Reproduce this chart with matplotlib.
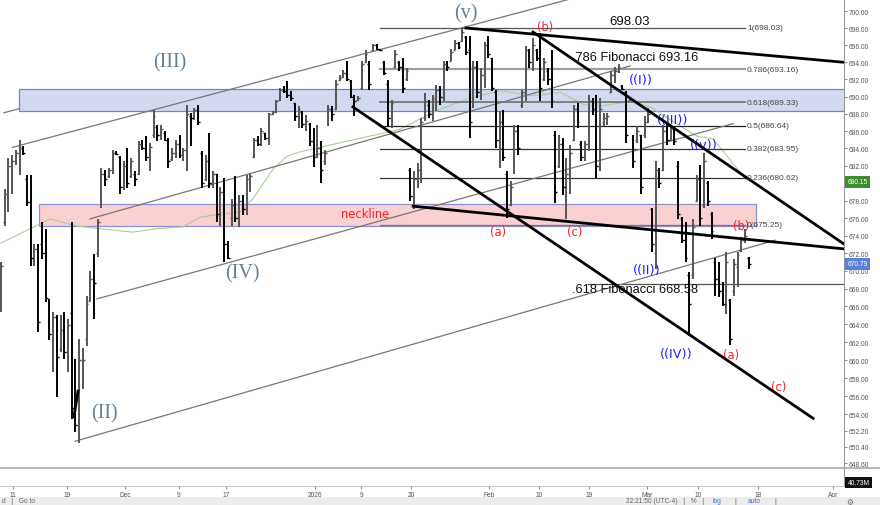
import numpy as np
import matplotlib.pyplot as plt
from matplotlib.patches import Rectangle
from matplotlib.lines import Line2D
from matplotlib.ticker import FixedLocator, NullLocator, FuncFormatter

plt.rcParams['font.family'] = ['Liberation Sans', 'DejaVu Sans']

# 4h bars, Nov 10 2025 -> Mar 17 2026
highs = [671.0, 679.3, 682.9, 683.2, 683.8, 685.0, 684.3, 680.9, 680.9, 673.0,
         673.0, 675.6, 674.8, 666.8, 665.4, 665.0, 665.0, 665.4, 664.6, 675.6,
         660.1, 662.4, 661.3, 667.2, 670.0, 671.9, 675.9, 681.7, 681.5, 681.7,
         683.8, 683.7, 683.1, 682.5, 684.0, 682.9, 681.4, 684.8, 685.0, 685.4,
         684.6, 688.4, 686.7, 686.7, 686.0, 685.2, 684.0, 685.0, 685.5, 684.0,
         689.0, 688.1, 688.7, 689.0, 683.7, 683.2, 685.8, 681.4, 681.1, 679.6,
         680.6, 673.4, 678.2, 680.8, 678.6, 678.6, 680.9, 681.1, 685.2, 685.4,
         686.4, 685.8, 688.1, 688.3, 689.6, 691.0, 691.2, 691.8, 690.6, 689.3,
         688.9, 688.3, 687.9, 686.9, 686.4, 686.7, 684.8, 683.8, 689.0, 688.9,
         691.9, 692.5, 693.1, 694.1, 691.9, 690.2, 690.1, 694.1, 695.4, 694.1,
         696.2, 696.2, 695.6, 694.1, 691.9, 689.6, 695.4, 694.2, 694.5, 693.3,
         681.7, 681.4, 682.3, 687.5, 690.4, 689.6, 690.2, 691.3, 691.2, 694.2,
         694.1, 695.6, 696.6, 696.4, 698.03, 697.1, 697.1, 694.1, 694.2, 693.3,
         696.4, 697.1, 694.5, 690.8, 688.3, 688.4, 681.4, 680.2, 686.7, 686.7,
         690.8, 695.9, 695.6, 696.8, 695.6, 697.4, 694.5, 693.3, 695.4, 686.0,
         685.5, 685.2, 682.9, 684.4, 689.0, 689.3, 684.8, 684.8, 690.2, 689.8,
         690.2, 689.8, 688.1, 688.1, 693.0, 693.5, 693.8, 691.3, 690.6, 689.8,
         685.5, 686.6, 685.5, 687.7, 688.7, 677.1, 682.6, 681.7, 686.7, 686.9,
         686.7, 686.4, 682.5, 676.1, 675.6, 669.9, 675.9, 680.9, 682.1, 683.5,
         680.2, 676.7, 671.5, 671.0, 668.7, 672.2, 666.8, 671.3, 672.1, 673.8,
         674.8, 671.6]
lows = [665.4, 675.1, 676.7, 678.8, 682.1, 680.9, 683.2, 677.4, 670.6, 670.6,
        663.1, 671.4, 666.5, 662.2, 658.7, 655.9, 660.9, 660.1, 658.7, 653.5,
        652.1, 650.8, 656.8, 661.6, 666.6, 664.6, 671.6, 677.1, 679.7, 680.6,
        681.1, 683.2, 678.8, 679.2, 679.4, 680.6, 679.7, 680.9, 683.8, 682.5,
        681.4, 685.2, 684.8, 685.0, 684.8, 681.7, 682.5, 682.9, 682.9, 682.5,
        681.4, 684.3, 687.3, 686.7, 679.4, 680.2, 679.4, 679.4, 675.6, 675.1,
        671.0, 671.3, 675.1, 675.6, 675.0, 676.3, 676.3, 679.0, 682.9, 684.3,
        684.3, 685.0, 684.4, 687.9, 688.1, 689.5, 690.4, 689.8, 689.5, 687.2,
        686.4, 686.4, 686.0, 684.3, 681.9, 682.9, 680.0, 682.1, 686.6, 687.2,
        688.4, 691.8, 692.2, 691.8, 689.8, 687.7, 689.5, 690.8, 693.9, 690.8,
        695.3, 695.4, 695.3, 692.5, 686.6, 686.4, 693.3, 693.0, 690.4, 691.8,
        677.9, 677.0, 679.4, 680.0, 687.2, 687.5, 687.2, 688.3, 689.0, 689.5,
        693.0, 694.1, 695.4, 695.6, 696.4, 694.8, 685.2, 688.7, 689.8, 689.6,
        691.0, 694.5, 690.6, 684.0, 681.7, 682.5, 676.0, 677.4, 681.1, 683.2,
        688.7, 689.5, 693.3, 693.0, 694.1, 689.5, 691.8, 691.3, 688.7, 677.7,
        681.7, 678.6, 675.9, 678.8, 684.8, 686.4, 682.5, 682.5, 683.7, 687.9,
        680.6, 681.4, 686.6, 686.7, 690.4, 691.6, 692.7, 690.8, 684.6, 689.5,
        681.7, 684.6, 678.8, 685.2, 686.9, 672.1, 670.2, 679.4, 681.4, 684.4,
        684.8, 684.4, 675.9, 673.2, 671.0, 662.7, 669.1, 677.9, 675.1, 677.1,
        677.4, 673.6, 667.2, 667.1, 666.0, 665.2, 661.7, 667.2, 668.2, 672.1,
        673.2, 670.2]
opens = [666.3, 675.5, 678.8, 682.0, 682.5, 683.5, 684.0, 680.5, 677.8, 671.5,
         672.5, 673.0, 672.0, 666.7, 662.9, 664.8, 661.2, 663.4, 660.9, 665.3,
         654.7, 652.8, 660.0, 662.4, 666.6, 669.1, 672.0, 677.5, 681.0, 680.8,
         681.5, 683.5, 683.0, 679.5, 682.0, 680.8, 681.0, 681.0, 684.5, 684.0,
         683.0, 685.5, 686.5, 685.5, 685.8, 685.0, 682.8, 683.5, 684.5, 683.2,
         683.8, 687.8, 687.5, 688.4, 683.5, 680.5, 682.5, 680.0, 681.0, 676.5,
         679.0, 673.0, 676.0, 677.5, 676.0, 678.0, 677.0, 680.5, 683.0, 685.0,
         684.5, 685.8, 685.2, 688.0, 688.2, 689.6, 690.8, 690.6, 690.2, 689.2,
         687.8, 688.2, 686.8, 686.8, 684.8, 683.0, 684.0, 682.5, 686.8, 688.5,
         688.5, 691.9, 692.3, 692.8, 691.8, 690.0, 689.6, 691.0, 694.0, 693.8,
         695.4, 696.0, 695.5, 694.0, 691.5, 687.5, 693.5, 694.0, 693.5, 692.0,
         681.5, 678.5, 680.5, 681.0, 687.5, 689.0, 688.0, 689.5, 690.8, 690.0,
         693.8, 694.2, 695.5, 696.3, 696.5, 697.0, 695.5, 689.0, 693.5, 690.5,
         692.5, 696.0, 694.5, 690.5, 685.0, 687.0, 681.0, 677.5, 681.5, 686.0,
         689.0, 690.5, 695.5, 694.0, 695.5, 694.5, 692.0, 693.0, 692.0, 685.5,
         682.0, 684.5, 679.5, 681.0, 685.0, 688.5, 684.5, 683.0, 684.5, 689.5,
         688.5, 682.0, 687.0, 687.5, 690.5, 692.5, 693.0, 691.2, 690.5, 689.6,
         685.0, 685.0, 685.5, 685.5, 687.0, 677.0, 672.0, 681.0, 681.5, 686.0,
         685.0, 686.2, 682.0, 676.0, 673.5, 669.6, 669.6, 678.0, 680.5, 677.5,
         680.0, 676.5, 671.0, 669.1, 667.7, 666.3, 666.7, 667.7, 670.5, 672.3,
         673.5, 671.5]
closes = [670.6, 678.8, 682.0, 682.5, 683.5, 684.0, 683.5, 677.8, 671.5, 672.5,
          664.3, 672.0, 667.0, 662.9, 664.8, 660.4, 663.4, 660.9, 663.9, 654.7,
          652.8, 660.0, 660.0, 666.3, 669.1, 668.6, 675.5, 681.0, 680.5, 681.5,
          683.5, 683.4, 679.5, 682.0, 680.0, 682.5, 680.5, 684.5, 684.0, 683.0,
          684.2, 687.8, 685.5, 686.2, 685.0, 682.5, 683.5, 684.5, 683.2, 683.8,
          688.0, 687.5, 688.4, 687.0, 680.0, 682.5, 680.0, 681.0, 676.5, 679.0,
          673.0, 671.5, 677.5, 676.0, 678.0, 677.0, 680.5, 680.8, 685.0, 684.5,
          686.0, 685.2, 688.0, 688.2, 689.5, 690.8, 690.6, 690.2, 689.8, 687.8,
          688.5, 686.8, 687.2, 684.8, 683.0, 684.0, 681.5, 683.5, 688.5, 688.0,
          691.5, 692.2, 692.8, 692.0, 690.0, 689.5, 689.8, 693.8, 695.0, 691.5,
          696.0, 695.6, 695.4, 692.8, 687.5, 689.2, 695.0, 693.5, 691.0, 693.0,
          678.5, 680.5, 681.5, 687.0, 689.5, 688.0, 689.8, 690.8, 690.0, 693.8,
          693.5, 695.2, 696.3, 695.8, 697.5, 695.2, 687.0, 693.5, 690.5, 692.5,
          696.0, 695.0, 691.0, 685.0, 687.0, 683.0, 677.0, 679.5, 686.0, 684.0,
          690.5, 695.5, 694.0, 696.0, 694.5, 691.0, 694.0, 692.0, 689.5, 679.0,
          684.5, 679.5, 681.0, 683.5, 688.5, 687.0, 683.0, 684.5, 689.5, 688.5,
          682.0, 688.5, 687.5, 687.8, 692.5, 693.0, 693.5, 690.9, 685.5, 689.7,
          682.5, 686.0, 679.5, 687.0, 688.0, 673.0, 681.5, 680.0, 686.0, 685.0,
          686.5, 684.8, 676.5, 673.5, 671.5, 666.3, 675.0, 680.5, 676.0, 682.5,
          678.0, 674.5, 669.1, 667.7, 666.3, 671.0, 662.4, 670.8, 671.8, 673.5,
          674.0, 670.79]

# moving average (thin green), traced
ma_x = [-0.3, 13.2, 20.4, 26.6, 35.5, 41.9, 48.9, 53.5, 58.1, 64.2, 67.7, 73.1, 76.9,
        80.4, 93.8, 107.3, 116.1, 125.3, 134.1, 143.0, 150.3, 156.5, 161.0, 169.1,
        174.5, 182.5, 187.1, 191.4, 195.2, 200.0]
ma_y = [673.1, 675.9, 675.1, 674.8, 674.4, 674.8, 675.0, 676.1, 676.4, 676.7, 678.2,
        681.6, 683.1, 683.6, 684.9, 686.2, 688.2, 689.7, 690.7, 690.1, 690.5, 689.1,
        688.9, 689.4, 688.8, 686.6, 685.4, 685.1, 683.1, 680.5]

fib_ratio = ['1', '0.786', '0.618', '0.5', '0.382', '0.236', '0']
fib_level = [698.03, 693.16, 689.33, 686.64, 683.95, 680.62, 675.25]

date_pos = [3.1, 17.7, 33.3, 47.8, 60.4, 84.4, 96.8, 110.2, 131.2, 144.6, 158.1,
            173.6, 187.4, 203.4, 223.7]
date_lbl = ['11', '19', 'Dec', '9', '17', '2026', '9', '20', 'Feb', '10', '19',
            'Mar', '10', '18', 'Apr']
# 680.00 sits under the last-price tag, so it is left out
price_ticks = [648.6, 650.4, 652.2] + [v for v in range(654, 701, 2) if v != 680]

fig = plt.figure(figsize=(8.8, 5.06), dpi=100)
ax = fig.add_axes([0, 37 / 506, 844 / 880, 469 / 506])
vax = fig.add_axes([0, 19 / 506, 844 / 880, 18 / 506], sharex=ax)

n = len(highs)
x = np.arange(n)
o = np.array(opens)
c = np.array(closes)
col = np.where(c >= o, '#555555', '#000000')
ax.vlines(x, lows, highs, colors=col, lw=1.4, zorder=3)
ax.hlines(o, x - 0.5, x, colors=col, lw=1.0, zorder=3)
ax.hlines(c, x, x + 0.5, colors=col, lw=1.0, zorder=3)

ax.plot(ma_x, ma_y, color='#a9cf98', lw=0.8, zorder=2)

# zones
ax.add_patch(Rectangle((4.8, 688.29), 230, 2.6, fc='#d3d9ee', ec='#6f88c8', lw=0.9, zorder=1))
ax.add_patch(Rectangle((10.2, 675.05), 192.8, 2.53, fc='#fbd0d0', ec='#8a90d0', lw=0.9, zorder=1))

# fibonacci retracement
fib_col = ['#555555', '#a0a0a0', '#777777', '#222222', '#333333', '#333333', '#777777']
fib_lw = [0.9, 1.6, 1.3, 0.9, 0.9, 0.9, 0.9]
for r, lv, fc, lw in zip(fib_ratio, fib_level, fib_col, fib_lw):
    ax.plot([101.9, 200.0], [lv, lv], color=fc, lw=lw, zorder=2)
    ax.text(200.5, lv, f'{r}({lv:.2f})', fontsize=6, color='#444444', va='center', ha='left', zorder=5)
ax.plot([157.8, 227], [668.58, 668.58], color='#555555', lw=0.9, zorder=2)

# channel / trend lines
thin = dict(color='#777777', lw=0.9, zorder=2)
ax.plot([0.8, 4.8], [688.12, 688.58], **thin)
ax.plot([3.0, 153.0], [684.11, 701.45], **thin)
ax.plot([23.9, 169.1], [675.91, 693.57], **thin)
ax.plot([25.8, 196.8], [666.85, 686.86], **thin)
ax.plot([19.9, 208.1], [651.03, 673.49], **thin)
thick = dict(color='#000000', lw=2.0, zorder=4)
ax.plot([125.0, 226.6], [698.03, 694.0], **thick)
ax.plot([143.0, 226.6], [697.56, 673.05], **thick)
ax.plot([94.6, 218.3], [688.79, 653.55], **thick)
ax.plot([110.8, 226.6], [677.36, 672.5], **thick)
ax.plot([19.6, 20.7], [653.71, 656.57], **thick)

# wave labels
serif = dict(family='Liberation Serif', color='#62809a', ha='center', va='center', fontsize=14.5)
for t, xx, yy in [('(III)', 45.4, 694.1), ('(v)', 125.0, 699.8), ('(IV)', 64.8, 669.8), ('(II)', 27.7, 654.2)]:
    ax.text(xx, yy, t, **serif)
red = dict(family='DejaVu Sans', color='#ff1f1f', ha='center', va='center', fontsize=8.3)
for t, xx, yy in [('(b)', 146.2, 698.15), ('(a)', 133.6, 674.48), ('(c)', 154.3, 674.48),
                  ('neckline', 97.8, 676.47), ('(b)', 198.9, 675.14), ('(a)', 196.2, 660.65),
                  ('(c)', 209.1, 657.03)]:
    ax.text(xx, yy, t, **red)
blue = dict(family='DejaVu Sans', color='#1f1fff', ha='center', va='center', fontsize=9.3)
for t, xx, yy in [('((I))', 172.0, 691.94), ('((III))', 180.4, 687.32), ('((v))', 189.0, 684.45),
                  ('((II))', 173.7, 670.12), ('((IV))', 181.5, 660.76)]:
    ax.text(xx, yy, t, **blue)
ax.text(169.1, 698.86, '698.03', fontsize=9.5, color='#111111', ha='center', va='center', zorder=6)
ax.text(153.6, 694.63, '.786 Fibonacci 693.16', fontsize=9.3, color='#111111', ha='left', va='center', zorder=6)
ax.text(153.6, 667.98, '.618 Fibonacci 668.58', fontsize=9.3, color='#111111', ha='left', va='center', zorder=6)

# axes styling
ax.set_yscale('log')
ax.set_xlim(-0.27, 226.6)
ax.set_ylim(648.1, 701.45)
ax.yaxis.set_major_locator(FixedLocator(price_ticks))
ax.yaxis.set_minor_locator(NullLocator())
ax.yaxis.set_major_formatter(FuncFormatter(lambda v, p: f'{v:.2f}'))
ax.yaxis.tick_right()
ax.tick_params(axis='y', length=2, width=0.5, pad=1.5, labelsize=4.8, colors='#555555')
ax.tick_params(axis='x', bottom=False, labelbottom=False)
for s in ['top', 'left', 'bottom']:
    ax.spines[s].set_visible(False)
ax.spines['right'].set_color('#999999')
ax.spines['right'].set_linewidth(0.8)

vax.set_ylim(0, 1)
vax.set_yticks([])
vax.set_xticks(date_pos)
vax.set_xticklabels(date_lbl)
vax.tick_params(axis='x', length=2, width=0.5, pad=1.5, labelsize=4.8, colors='#555555')
for s in ['top', 'left']:
    vax.spines[s].set_visible(False)
vax.spines['right'].set_color('#999999')
vax.spines['bottom'].set_color('#bbbbbb')
vax.spines['right'].set_linewidth(0.8)
vax.spines['bottom'].set_linewidth(0.6)

# price tags on the axis
tag = dict(xycoords=('axes fraction', 'data'), fontsize=4.8, color='white', ha='left', va='center',
           annotation_clip=False)
ax.annotate('680.15', xy=(1.004, 680.15), bbox=dict(boxstyle='square,pad=0.35', fc='#3e8a2f', ec='none'), **tag)
ax.annotate('670.79', xy=(1.004, 670.79), bbox=dict(boxstyle='square,pad=0.35', fc='#5a82d4', ec='none'), **tag)
vax.text(1.004, 0.2, '40.73M', transform=vax.transAxes, fontsize=4.8, color='white', ha='left', va='center',
         bbox=dict(boxstyle='square,pad=0.35', fc='#111111', ec='none'))

fig.add_artist(Line2D([0, 1], [37 / 506, 37 / 506], color='#aaaaaa', lw=1.2))
fig.add_artist(Rectangle((0, 0), 1, 8 / 506, fc='#ececec', ec='none', transform=fig.transFigure))
fig.text(0.002, 4 / 506, 'd   |   Go to', fontsize=4.8, color='#666666', va='center')
fig.text(0.80, 4 / 506, '22:21:50 (UTC-4)   |   %   |', fontsize=4.8, color='#666666', va='center', ha='right')
fig.text(0.81, 4 / 506, 'log', fontsize=4.8, color='#3c78d8', va='center')
fig.text(0.835, 4 / 506, '|', fontsize=4.8, color='#666666', va='center')
fig.text(0.85, 4 / 506, 'auto', fontsize=4.8, color='#3c78d8', va='center')
fig.text(0.88, 4 / 506, '|', fontsize=4.8, color='#666666', va='center')
fig.text(0.962, 4 / 506, '\u2699', fontsize=5.5, color='#666666', va='center', family='DejaVu Sans')

fig.savefig('out.png', dpi=100)
